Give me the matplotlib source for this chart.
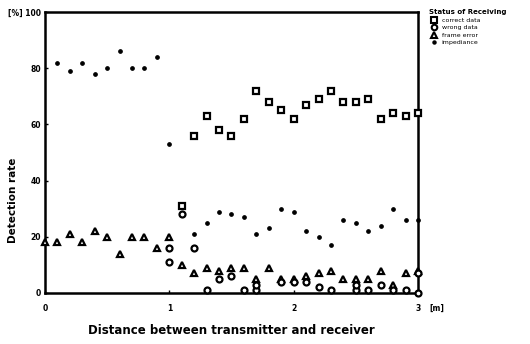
import numpy as np
import matplotlib
matplotlib.use("Agg")
import matplotlib.pyplot as plt
from matplotlib.lines import Line2D

# distance [m] and detection rate [%]
x_correct = [1.1, 1.2, 1.3, 1.4, 1.5, 1.6, 1.7, 1.8, 1.9, 2.0, 2.1, 2.2, 2.3, 2.4, 2.5, 2.6, 2.7, 2.8, 2.9, 3.0]
y_correct = [31, 56, 63, 58, 56, 62, 72, 68, 65, 62, 67, 69, 72, 68, 68, 69, 62, 64, 63, 64]

x_wrong = [1.0, 1.0, 1.1, 1.2, 1.3, 1.4, 1.5, 1.6, 1.7, 1.7, 1.9, 2.0, 2.1, 2.2, 2.3, 2.5, 2.5, 2.6, 2.7, 2.8, 2.9, 3.0, 3.0]
y_wrong = [16, 11, 28, 16, 1, 5, 6, 1, 1, 3, 4, 4, 4, 2, 1, 1, 3, 1, 3, 1, 1, 7, 0]

x_frame = [0.0, 0.1, 0.2, 0.3, 0.4, 0.5, 0.6, 0.7, 0.8, 0.9, 1.0, 1.1, 1.2, 1.3, 1.4, 1.5, 1.6, 1.7, 1.8,
           1.9, 2.0, 2.1, 2.2, 2.3, 2.4, 2.5, 2.6, 2.7, 2.8, 2.9, 3.0]
y_frame = [18, 18, 21, 18, 22, 20, 14, 20, 20, 16, 20, 10, 7, 9, 8, 9, 9, 5, 9,
           5, 5, 6, 7, 8, 5, 5, 5, 8, 3, 7, 8]

x_imp = [0.1, 0.2, 0.3, 0.4, 0.5, 0.6, 0.7, 0.8, 0.9, 1.0, 1.2, 1.3, 1.4, 1.5, 1.6, 1.7, 1.8, 1.9,
         2.0, 2.1, 2.2, 2.3, 2.4, 2.5, 2.6, 2.7, 2.8, 2.9, 3.0]
y_imp = [82, 79, 82, 78, 80, 86, 80, 80, 84, 53, 21, 25, 29, 28, 27, 21, 23, 30,
         29, 22, 20, 17, 26, 25, 22, 24, 30, 26, 26]

legend_title = "Status of Receiving"
legend_labels = ["correct data", "wrong data", "frame error", "impediance"]

fig = plt.figure(figsize=(5.3, 3.44), dpi=100)
ax = fig.add_axes([45/530, 1-293/344, (418-45)/530, (293-12)/344])

kw = dict(ls="none", mfc="white", mec="black", mew=1.6, clip_on=False, zorder=3)
ax.plot(x_frame, y_frame, marker="^", ms=4.8, **kw)
ax.plot(x_wrong, y_wrong, marker="o", ms=4.3, **kw)
ax.plot(x_correct, y_correct, marker="s", ms=4.3, **kw)
ax.plot(x_imp, y_imp, marker="o", ms=2.4, ls="none", color="black", clip_on=False, zorder=3)

ax.set_xlim(0, 3)
ax.set_ylim(0, 100)
ax.set_xticks([0, 1, 2, 3])
ax.set_yticks([0, 20, 40, 60, 80, 100])
ax.set_yticklabels(["0", "20", "40", "60", "80", "[%] 100"])
ax.tick_params(direction="in", length=2, width=1, labelsize=5.5)
ax.tick_params(axis="x", pad=8)
ax.tick_params(axis="y", pad=3)
for lab in ax.get_xticklabels() + ax.get_yticklabels():
    lab.set_fontweight("bold")
for s in ax.spines.values():
    s.set_linewidth(1.8)
ax.annotate("[m]", xy=(1, 0), xycoords="axes fraction", xytext=(8, -8),
            textcoords="offset points", fontsize=5.5, fontweight="bold", va="top")

ax.set_xlabel("Distance between transmitter and receiver", fontsize=8.5, fontweight="bold", labelpad=8)
fig.text(13/530, 1-200/344, "Detection rate", rotation=90, fontsize=7.5, fontweight="bold",
         ha="center", va="center")

handles = [
    Line2D([], [], marker="s", ls="none", mfc="white", mec="black", mew=1.5, ms=4),
    Line2D([], [], marker="o", ls="none", mfc="white", mec="black", mew=1.5, ms=4),
    Line2D([], [], marker="^", ls="none", mfc="white", mec="black", mew=1.5, ms=4.5),
    Line2D([], [], marker="o", ls="none", color="black", ms=2.2),
]
leg = fig.legend(handles, legend_labels, title=legend_title, loc="upper left",
                 bbox_to_anchor=(426/530, 1-6/344), frameon=False, fontsize=4.5,
                 title_fontsize=5, handletextpad=0.4, labelspacing=0.35, borderpad=0,
                 handlelength=1.6)
leg.get_title().set_fontweight("bold")
leg._legend_box.align = "left"

fig.savefig("out.png", dpi=100)
